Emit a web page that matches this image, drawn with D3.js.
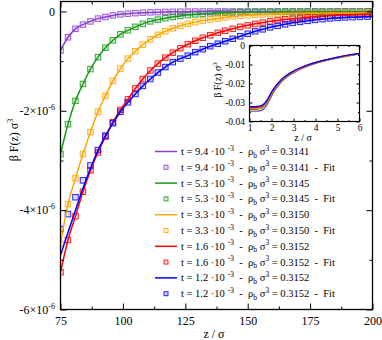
<!DOCTYPE html>
<html>
<head>
<meta charset="utf-8">
<script src="https://cdn.jsdelivr.net/npm/d3@7"></script>
<style>
  body { margin: 0; background: #fff; }
  svg { display: block; }
  svg text { font-family: "Liberation Serif", "Times New Roman", serif; fill: #000; }
</style>
</head>
<body>
<svg width="382" height="340"></svg>
<script>
// main panel, F in units of 1e-6
let zLine = [75, 78, 81, 84, 87, 90, 93, 96, 99, 102, 105, 108, 111, 114, 117, 120, 123, 126, 129, 132,
  135, 138, 141, 144, 147, 150, 153, 156, 159, 162, 165, 168, 171, 174, 177, 180, 183, 186, 189, 192, 195, 198, 200];

let fPurple = [-0.785, -0.52, -0.35, -0.265, -0.2, -0.145, -0.112, -0.08, -0.059, -0.045, -0.034, -0.025, -0.019, -0.014,
  -0.01, -0.008, -0.006, -0.004, -0.003, -0.002, -0.002, -0.001, -0.001, 0, 0, 0, 0, 0, 0, 0, 0, 0, 0, 0, 0, 0, 0, 0, 0, 0, 0, 0, 0];
let fGreen = [-2.87, -2.27, -1.8, -1.46, -1.16, -0.92, -0.73, -0.58, -0.46, -0.38, -0.31, -0.25, -0.2, -0.165, -0.135,
  -0.11, -0.09, -0.073, -0.06, -0.049, -0.04, -0.033, -0.027, -0.022, -0.018, -0.015, -0.013, -0.011, -0.01, -0.009,
  -0.008, -0.008, -0.007, -0.007, -0.006, -0.006, -0.006, -0.005, -0.005, -0.005, -0.005, -0.005, -0.005];
let fOrange = [-4.68, -3.88, -3.36, -2.87, -2.43, -2.02, -1.7, -1.4, -1.15, -0.95, -0.8, -0.67, -0.56, -0.47, -0.4,
  -0.34, -0.29, -0.25, -0.215, -0.185, -0.16, -0.14, -0.12, -0.1, -0.088, -0.077, -0.068, -0.061, -0.055, -0.05,
  -0.046, -0.043, -0.04, -0.038, -0.036, -0.034, -0.033, -0.032, -0.031, -0.03, -0.03, -0.029, -0.029];
let fRed = [-5.25, -4.6, -4.12, -3.63, -3.2, -2.84, -2.52, -2.23, -1.98, -1.77, -1.55, -1.36, -1.19, -1.05, -0.93,
  -0.83, -0.74, -0.66, -0.59, -0.53, -0.48, -0.43, -0.39, -0.35, -0.31, -0.28, -0.25, -0.225, -0.2, -0.18,
  -0.16, -0.145, -0.13, -0.115, -0.1, -0.09, -0.08, -0.075, -0.07, -0.065, -0.06, -0.055, -0.05];
let fBlue = [-4.91, -4.45, -4.0, -3.56, -3.16, -2.8, -2.5, -2.25, -2.02, -1.83, -1.66, -1.5, -1.36, -1.23, -1.12,
  -1.02, -0.95, -0.89, -0.82, -0.76, -0.7, -0.65, -0.6, -0.55, -0.5, -0.45, -0.4, -0.36, -0.32, -0.29,
  -0.26, -0.23, -0.21, -0.19, -0.17, -0.155, -0.14, -0.13, -0.12, -0.115, -0.11, -0.105, -0.1];
// fit squares (same z grid, last point dropped)
let fitBlue = [-4.38, -4.08, -3.74, -3.4, -3.1, -2.79, -2.5, -2.25, -2.02, -1.83, -1.66, -1.5, -1.36, -1.23, -1.12,
  -1.02, -0.95, -0.89, -0.82, -0.76, -0.7, -0.65, -0.6, -0.55, -0.5, -0.45, -0.4, -0.36, -0.32, -0.29,
  -0.26, -0.23, -0.21, -0.19, -0.17, -0.155, -0.14, -0.13, -0.12, -0.115, -0.11, -0.105];

let colors = ["#8a3fcf", "#16991a", "#ffa500", "#ff0000", "#0000ff"];
let tLabels = ["9.4", "5.3", "3.3", "1.6", "1.2"];
let rhoLabels = ["0.3141", "0.3145", "0.3150", "0.3152", "0.3152"];

let xTicks = [75, 100, 125, 150, 175, 200];
let xMinor = [87.5, 112.5, 137.5, 162.5, 187.5];
let yTicks = [0, -2, -4, -6];
let yMinor = [-1, -3, -5];

// inset
let insetZ = [1, 1.25, 1.5, 1.65, 1.8, 1.9, 2, 2.1, 2.25, 2.5, 2.75, 3, 3.5, 4, 4.5, 5, 5.5, 6];
let iPurple = [-0.0346, -0.0346, -0.0343, -0.0334, -0.0312, -0.029, -0.0267, -0.0246, -0.022, -0.0186, -0.0162, -0.0144, -0.0116, -0.0095, -0.0079, -0.0066, -0.0055, -0.0045];
let iGreen = [-0.0337, -0.0337, -0.0333, -0.0323, -0.0301, -0.028, -0.0258, -0.0238, -0.0213, -0.0181, -0.0158, -0.014, -0.0113, -0.0093, -0.0077, -0.0064, -0.0053, -0.0043];
let iOrange = [-0.0332, -0.0332, -0.0328, -0.0318, -0.0296, -0.0275, -0.0253, -0.0234, -0.021, -0.0178, -0.0155, -0.0138, -0.0111, -0.0091, -0.0076, -0.0063, -0.0052, -0.0043];
let iRed = [-0.0327, -0.0327, -0.0323, -0.0313, -0.0291, -0.027, -0.0249, -0.023, -0.0207, -0.0175, -0.0153, -0.0136, -0.011, -0.009, -0.0075, -0.0062, -0.0051, -0.0042];
let iBlue = [-0.0322, -0.0322, -0.0318, -0.0308, -0.0286, -0.0266, -0.0245, -0.0227, -0.0204, -0.0173, -0.0151, -0.0134, -0.0108, -0.0089, -0.0074, -0.0061, -0.005, -0.0041];
let insetXTicks = [1, 2, 3, 4, 5, 6];
let insetXMinor = [1.5, 2.5, 3.5, 4.5, 5.5];
let insetYTicks = [0, -0.01, -0.02, -0.03, -0.04];
let insetYMinor = [-0.005, -0.015, -0.025, -0.035];

let series = [
  { color: colors[0], line: fPurple, fit: fPurple, inset: iPurple },
  { color: colors[1], line: fGreen, fit: fGreen, inset: iGreen },
  { color: colors[2], line: fOrange, fit: fOrange, inset: iOrange },
  { color: colors[3], line: fRed, fit: fRed, inset: iRed },
  { color: colors[4], line: fBlue, fit: fitBlue, inset: iBlue },
];

let svg = d3.select("svg");
const SERIF = '"Liberation Serif", "Times New Roman", serif';
const NB = "\u00a0";

let x = d3.scaleLinear().domain([75, 200]).range([60.5, 372.5]);
let y = d3.scaleLinear().domain([-6, 0.2]).range([309.5, 1.5]);

svg.append("clipPath").attr("id", "clip")
  .append("rect").attr("x", 60.5).attr("y", 1.5).attr("width", 312).attr("height", 308);

let plot = svg.append("g").attr("clip-path", "url(#clip)");

let line = d3.line()
  .x((d) => x(d[0]))
  .y((d) => y(d[1]))
  .curve(d3.curveMonotoneX);

for (let s of series) {
  let pts = s.fit.map((v, i) => [zLine[i], v]);
  plot.append("g")
    .selectAll("rect")
    .data(pts)
    .join("rect")
    .attr("x", (d) => x(d[0]) - 2.75)
    .attr("y", (d) => y(d[1]) - 2.75)
    .attr("width", 5.5)
    .attr("height", 5.5)
    .style("fill", s.color)
    .style("fill-opacity", 0.15)
    .style("stroke", s.color)
    .style("stroke-opacity", 0.85)
    .style("stroke-width", 1);
}
for (let s of series) {
  plot.append("path")
    .datum(s.line.map((v, i) => [zLine[i], v]))
    .attr("d", line)
    .style("fill", "none")
    .style("stroke", s.color)
    .style("stroke-width", 1.5);
}

// frame + ticks
function ticks(g, axis, size) {
  g.call(axis);
  g.attr("font-family", SERIF).attr("font-size", size || 12);
  g.select(".domain").remove();
  g.selectAll(".tick line").style("stroke", "#000").style("stroke-width", 1);
}

svg.append("g").attr("transform", "translate(0,309.5)")
  .call((g) => ticks(g, d3.axisBottom(x).tickValues(xTicks).tickSize(-6).tickPadding(6.5)));
svg.append("g").attr("transform", "translate(0,309.5)")
  .call((g) => ticks(g, d3.axisBottom(x).tickValues(xMinor).tickSize(-3).tickFormat("")));
svg.append("g").attr("transform", "translate(0,1.5)")
  .call((g) => ticks(g, d3.axisTop(x).tickValues(xTicks).tickSize(-6).tickFormat("")));
svg.append("g").attr("transform", "translate(0,1.5)")
  .call((g) => ticks(g, d3.axisTop(x).tickValues(xMinor).tickSize(-3).tickFormat("")));

let yAxisG = svg.append("g").attr("transform", "translate(60.5,0)")
  .call((g) => ticks(g, d3.axisLeft(y).tickValues(yTicks).tickSize(-6).tickPadding(5.5)));
yAxisG.selectAll(".tick text")
  .each(function (d) {
    let t = d3.select(this).text("");
    if (d === 0) {
      t.text("0");
    } else {
      t.append("tspan").text(d + "\u00d710");
      t.append("tspan").attr("dy", -5).style("font-size", "8px").text("-6");
    }
  });
svg.append("g").attr("transform", "translate(60.5,0)")
  .call((g) => ticks(g, d3.axisLeft(y).tickValues(yMinor).tickSize(-3).tickFormat("")));
svg.append("g").attr("transform", "translate(372.5,0)")
  .call((g) => ticks(g, d3.axisRight(y).tickValues(yTicks).tickSize(-6).tickFormat("")));
svg.append("g").attr("transform", "translate(372.5,0)")
  .call((g) => ticks(g, d3.axisRight(y).tickValues(yMinor).tickSize(-3).tickFormat("")));

svg.append("rect")
  .attr("x", 60.5).attr("y", 1.5).attr("width", 312).attr("height", 308)
  .style("fill", "none").style("stroke", "#000").style("stroke-width", 1.3);

svg.append("text")
  .attr("x", 214).attr("y", 338)
  .attr("text-anchor", "middle")
  .style("font-size", "12px")
  .text("z / \u03c3");

let yl = svg.append("text")
  .attr("transform", "translate(18,140) rotate(-90)")
  .attr("text-anchor", "middle")
  .style("font-size", "12px");
yl.append("tspan").text("\u03b2 F(z) \u03c3");
yl.append("tspan").attr("dy", -5).style("font-size", "8px").text("3");

// legend
let legend = svg.append("g");
let rowY = 151.5;
for (let i = 0; i < series.length; i++) {
  for (let k = 0; k < 2; k++) {
    let cy = rowY;
    if (k === 0) {
      legend.append("line")
        .attr("x1", 155).attr("x2", 177).attr("y1", cy).attr("y2", cy)
        .style("stroke", series[i].color).style("stroke-width", 1.5);
    } else {
      legend.append("rect")
        .attr("x", 164).attr("y", cy - 2).attr("width", 4).attr("height", 4)
        .style("fill", series[i].color).style("fill-opacity", 0.15)
        .style("stroke", series[i].color).style("stroke-opacity", 0.85)
        .style("stroke-width", 1);
    }
    let t = legend.append("text")
      .attr("x", 181).attr("y", cy + 3.5)
      .style("font-size", "10.5px");
    t.append("tspan").text("t = " + tLabels[i] + " \u00b710");
    t.append("tspan").attr("dx", 3).attr("dy", -4.5).style("font-size", "7.5px").text("-3");
    t.append("tspan").attr("dy", 4.5).text(NB + NB + "-" + NB + NB + "\u03c1");
    t.append("tspan").attr("dy", 2.5).style("font-size", "7.5px").text("b");
    t.append("tspan").attr("dy", -2.5).text(NB + "\u03c3");
    t.append("tspan").attr("dy", -4.5).style("font-size", "7.5px").text("3");
    t.append("tspan").attr("dy", 4.5).text(NB + "=" + NB + rhoLabels[i] + (k === 1 ? NB + NB + "-" + NB + NB + "Fit" : ""));
    rowY += 15.8;
  }
}

// inset
let ix = d3.scaleLinear().domain([1, 6]).range([249.5, 359.5]);
let iy = d3.scaleLinear().domain([-0.04, 0]).range([121.5, 45.5]);

svg.append("rect")
  .attr("x", 249.5).attr("y", 45.5).attr("width", 110).attr("height", 76)
  .style("fill", "#fff");

let iline = d3.line()
  .x((d) => ix(d[0]))
  .y((d) => iy(d[1]))
  .curve(d3.curveMonotoneX);

for (let s of series) {
  svg.append("path")
    .datum(s.inset.map((v, i) => [insetZ[i], v]))
    .attr("d", iline)
    .style("fill", "none")
    .style("stroke", s.color)
    .style("stroke-width", 1.2);
}

svg.append("g").attr("transform", "translate(0,121.5)")
  .call((g) => ticks(g, d3.axisBottom(ix).tickValues(insetXTicks).tickSize(-3).tickPadding(2.5).tickFormat(d3.format("d")), 9.5));
svg.append("g").attr("transform", "translate(0,121.5)")
  .call((g) => ticks(g, d3.axisBottom(ix).tickValues(insetXMinor).tickSize(-1.5).tickFormat("")));
svg.append("g").attr("transform", "translate(0,45.5)")
  .call((g) => ticks(g, d3.axisTop(ix).tickValues(insetXTicks).tickSize(-3).tickFormat("")));
svg.append("g").attr("transform", "translate(0,45.5)")
  .call((g) => ticks(g, d3.axisTop(ix).tickValues(insetXMinor).tickSize(-1.5).tickFormat("")));
svg.append("g").attr("transform", "translate(249.5,0)")
  .call((g) => ticks(g, d3.axisLeft(iy).tickValues(insetYTicks).tickSize(-3).tickPadding(4.5)
    .tickFormat((d) => d === 0 ? "0" : d3.format(".2f")(d).replace("\u2212", "-")), 9.5));
svg.append("g").attr("transform", "translate(249.5,0)")
  .call((g) => ticks(g, d3.axisLeft(iy).tickValues(insetYMinor).tickSize(-1.5).tickFormat("")));
svg.append("g").attr("transform", "translate(359.5,0)")
  .call((g) => ticks(g, d3.axisRight(iy).tickValues(insetYTicks).tickSize(-3).tickFormat("")));
svg.append("g").attr("transform", "translate(359.5,0)")
  .call((g) => ticks(g, d3.axisRight(iy).tickValues(insetYMinor).tickSize(-1.5).tickFormat("")));

svg.append("rect")
  .attr("x", 249.5).attr("y", 45.5).attr("width", 110).attr("height", 76)
  .style("fill", "none").style("stroke", "#000").style("stroke-width", 1.2);

svg.append("text")
  .attr("x", 303).attr("y", 140.5)
  .attr("text-anchor", "middle")
  .style("font-size", "10px")
  .text("z / \u03c3");

let iyl = svg.append("text")
  .attr("transform", "translate(221,80) rotate(-90)")
  .attr("text-anchor", "middle")
  .style("font-size", "10px");
iyl.append("tspan").text("\u03b2 F(z) \u03c3");
iyl.append("tspan").attr("dy", -4).style("font-size", "7px").text("3");
</script>
</body>
</html>
